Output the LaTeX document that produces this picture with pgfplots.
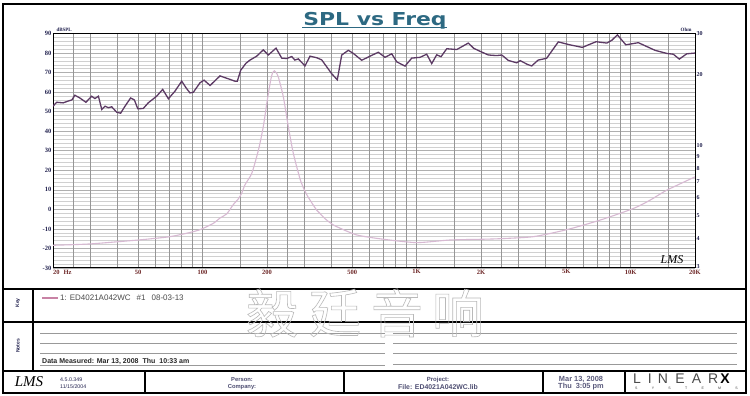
\documentclass[border=0pt]{standalone}
\usepackage{fontspec}
\setmainfont{Liberation Sans}
\newfontfamily\lserif{Liberation Serif}
\newfontfamily\dejab{DejaVu Sans}
\newfontfamily\cjk{Noto Sans CJK SC}
\usepackage{graphicx}
\usepackage{pgfplots}
\pgfplotsset{compat=1.18}
\definecolor{splc}{RGB}{92,58,100}
\definecolor{impc}{RGB}{215,185,210}
\definecolor{gridv}{RGB}{150,150,150}
\definecolor{gridh}{RGB}{208,208,208}
\definecolor{gridhm}{RGB}{175,175,175}
\definecolor{navy}{RGB}{35,35,80}
\definecolor{xlab}{RGB}{110,40,40}
\definecolor{titlec}{RGB}{45,105,130}
\definecolor{legc}{RGB}{200,130,165}
\definecolor{wm}{RGB}{185,185,185}
\newcommand\outl[1]{\special{pdf:literal direct 1 Tr 0.6 w}#1\special{pdf:literal direct 0 Tr}}
\begin{document}
\begin{tikzpicture}[x=1pt,y=1pt]
\useasboundingbox (0,0) rectangle (750,396);
\fill[white] (0,0) rectangle (750,396);
% horizontal grid + left labels
\begin{axis}[at={(53pt,128pt)},anchor=south west,width=642pt,height=234.5pt,
  scale only axis,xmode=log,xmin=20,xmax=20000,major tick length=0pt,minor tick length=0pt,
  ymin=-30,ymax=90,xtick=\empty,
  ytick={-30,-20,-10,0,10,20,30,40,50,60,70,80,90},
  yticklabels={-30,-20,-10,0,10,20,30,40,50,60,70,80,90},
  minor y tick num=4,ymajorgrids,yminorgrids,
  major grid style={draw=gridhm,line width=0.6pt},
  minor grid style={draw=gridh,line width=0.5pt},
  axis line style={draw=none},
  yticklabel style={font=\lserif\bfseries\fontsize{6.5}{7}\selectfont,text=navy,inner sep=1.5pt}]
\addplot[draw=none] coordinates {(20,0)(20000,0)};
\end{axis}
% vertical grid + x labels + SPL
\begin{axis}[at={(53pt,128pt)},anchor=south west,width=642pt,height=234.5pt,
  scale only axis,xmode=log,xmin=20,xmax=20000,major tick length=0pt,minor tick length=0pt,
  ymin=-30,ymax=90,ytick=\empty,
  xtick={20,50,100,200,500,1000,2000,5000,10000,20000},
  xticklabels={\makebox[0pt][l]{20\hspace{4pt}Hz},50,100,200,500,1K,2K,5K,10K,20K},
  minor xtick={25,30,40,60,70,80,90,150,250,300,400,600,700,800,900,1500,2500,3000,4000,6000,7000,8000,9000,15000},
  xmajorgrids,xminorgrids,
  major grid style={draw=gridv,line width=0.75pt},
  minor grid style={draw=gridv,line width=0.75pt},
  axis line style={black,line width=1pt},
  xticklabel style={font=\lserif\bfseries\fontsize{6.5}{7}\selectfont,text=xlab,inner sep=1.5pt}]
\addplot[splc,line width=1.3pt] coordinates {
(20,52.8)(20.8,54.8)(22.3,54.5)(23.5,55.4)(24.5,56)(25.3,58.4)(26.7,57)(28.5,54.8)(30.3,57.9)(31.4,56.7)(32.6,57.9)(33.8,51.1)(35,52.8)(36.3,52)(37.6,52.5)(39.7,49.7)(41.4,49.2)(43.4,52.8)(46.1,57)(48,56)(49.8,51.5)(52.8,51.6)(55.7,54.5)(61,57.9)(65.1,61.4)(69.2,56.6)(74.3,60.5)(79.9,65.6)(83.7,62.2)(87.3,59.6)(90.5,59.9)(97.3,64.8)(101.6,66.1)(108.4,63.4)(120.6,68.3)(129.6,67.1)(141.7,65.6)(145.3,65.6)(150.7,71.2)(159.6,74.8)(166.6,76.4)(179,78.4)(192.1,81.6)(202.8,79)(220.4,82.5)(234.3,77.4)(247.3,77.2)(260.9,78.2)(270,76.4)(280.1,77)(301,73.4)(317.6,78.4)(341.4,77.6)(360.3,76.5)(401.2,69.4)(426.1,66.3)(446.8,79)(479.8,81.4)(506.3,79.8)(554.1,76.3)(605.9,78.4)(662.5,80.4)(712,77.8)(765.3,79.6)(807.6,75.5)(883,73.3)(949,77.4)(1037.6,77.8)(1115.1,79.4)(1176.6,74.6)(1241.7,79.1)(1300,78.1)(1383.2,82.2)(1540.9,81.8)(1744.6,85.1)(1850,82.4)(1978.6,80.9)(2163.8,79)(2368.7,78.7)(2500,79)(2684.6,76.2)(2937.4,75)(3050,76.1)(3292.6,74.2)(3450,73.4)(3700,76.4)(4050,77.3)(4595,85.7)(5200,84.2)(5950,82.9)(6900,85.8)(7738.6,85.1)(8165.3,86.5)(8672.9,89.3)(9500,84.2)(10871,85.3)(13000,81.4)(14757,79.8)(15836,79.4)(16889,76.9)(18291,79.6)(20000,80)};
\end{axis}
% impedance, right log axis
\begin{axis}[at={(53pt,128pt)},anchor=south west,width=642pt,height=234.5pt,
  scale only axis,xmode=log,xmin=20,xmax=20000,major tick length=0pt,minor tick length=0pt,
  ymode=log,ymin=3,ymax=30,axis x line=none,axis y line*=right,
  ytick={3,4,5,6,7,8,9,10,20,30},yticklabels={\raisebox{3pt}{3},4,5,6,7,8,9,10,20,30},
  axis line style={black,line width=1pt},
  yticklabel style={font=\lserif\bfseries\fontsize{6}{7}\selectfont,text=navy,inner sep=1.5pt,anchor=west}]
\addplot[impc,line width=1.1pt,smooth,tension=0.4] coordinates {
(20,3.75)(29.8,3.8)(50.1,3.95)(61,4.02)(70.4,4.08)(84.3,4.22)(97.3,4.37)(112.2,4.65)(120.6,4.9)(129.6,5.1)(139.3,5.6)(146.6,5.9)(152.3,6.25)(157.9,6.8)(169.7,7.6)(182.1,9.5)(192.1,12.0)(200.6,15.6)(208.1,19.0)(212,20.3)(216.3,20.8)(220,20.5)(225.8,19.6)(238.4,16.1)(251.6,12.0)(265.4,9.25)(285.3,7.2)(298,6.5)(312,6.0)(341.4,5.29)(353.8,5.12)(380,4.8)(408.2,4.58)(423.5,4.5)(525.3,4.15)(699.2,3.98)(1001,3.85)(1433,3.95)(2050,3.98)(2454,4.0)(3511,4.08)(5030,4.37)(7199,4.8)(10299,5.38)(12329,5.84)(14757,6.44)(20000,7.34)};
\end{axis}
% labels around plot
\node[anchor=west,font=\lserif\bfseries\fontsize{5}{6}\selectfont,text=navy] at (53,366) {dBSPL};
\node[anchor=east,font=\lserif\bfseries\fontsize{5}{6}\selectfont,text=navy] at (695,366) {Ohm};
\node[font=\lserif\itshape\fontsize{12}{13}\selectfont] at (672,136) {LMS};
% title
\node[anchor=base,text=titlec,inner sep=0pt] at (375,370.5) {\scalebox{1.23}[1]{\dejab\bfseries\fontsize{17.8}{20}\selectfont SPL vs Freq}};
\draw[titlec,line width=1.2pt] (302,368.6) -- (447,368.6);
% frame
\draw[line width=2.2pt] (3,3) rectangle (746,392);
\draw[line width=1.8pt] (3,107) -- (746,107) (3,74) -- (746,74) (3,25) -- (746,25);
\draw[line width=1.5pt] (33,25) -- (33,107);
\draw[line width=1.5pt] (145,3) -- (145,25) (344,3) -- (344,25) (543,3) -- (543,25) (625,3) -- (625,25);
% key / notes
\node[rotate=90,font=\bfseries\fontsize{5}{6}\selectfont,text=navy] at (18,93) {Key};
\node[rotate=90,font=\bfseries\fontsize{5}{6}\selectfont,text=navy] at (18,50) {Notes};
\draw[legc,line width=1.2pt] (42,98) -- (58,98);
\node[anchor=west,font=\fontsize{8}{9}\selectfont,text=black!70,inner sep=0pt] at (60,98) {1: ED4021A042WC\hspace{6pt}\#1\hspace{6pt}08-03-13};
\draw[black!40,line width=0.6pt] (40,62.5) -- (385,62.5) (40,52.5) -- (385,52.5) (40,42.5) -- (385,42.5) (40,31) -- (385,31);
\draw[black!40,line width=0.6pt] (393,62.5) -- (737,62.5) (393,52.5) -- (737,52.5) (393,42.5) -- (737,42.5) (393,32) -- (737,32);
\node[anchor=base west,font=\bfseries\fontsize{7}{8}\selectfont,text=black!85,inner sep=0pt] at (42,32.3) {Data Measured: Mar 13, 2008\hspace{4pt}Thu\hspace{4pt}10:33 am};
% watermark
\node[text=wm,font=\cjk\fontsize{52}{52}\selectfont,inner sep=0pt] at (272,83) {\outl{毅}};
\node[text=wm,font=\cjk\fontsize{52}{52}\selectfont,inner sep=0pt] at (335,83) {\outl{廷}};
\node[text=wm,font=\cjk\fontsize{52}{52}\selectfont,inner sep=0pt] at (397,83) {\outl{音}};
\node[text=wm,font=\cjk\fontsize{52}{52}\selectfont,inner sep=0pt] at (458,83) {\outl{响}};
% footer
\node[font=\lserif\itshape\fontsize{15}{15}\selectfont] at (29,14) {LMS};
\node[anchor=west,font=\fontsize{5.3}{6}\selectfont,text=navy,inner sep=0pt] at (60,16.5) {4.5.0.349};
\node[anchor=west,font=\fontsize{5.3}{6}\selectfont,text=navy,inner sep=0pt] at (60,9.3) {11/15/2004};
\node[font=\bfseries\fontsize{5.8}{6}\selectfont,text=navy!80,inner sep=0pt] at (242,16.5) {Person:};
\node[font=\bfseries\fontsize{5.8}{6}\selectfont,text=navy!80,inner sep=0pt] at (242,9.3) {Company:};
\node[font=\bfseries\fontsize{6}{6}\selectfont,text=navy!80,inner sep=0pt] at (438,16.5) {Project:};
\node[font=\bfseries\fontsize{6.9}{7}\selectfont,text=navy!80,inner sep=0pt] at (438,9.3) {File: ED4021A042WC.lib};
\node[font=\bfseries\fontsize{7.4}{8}\selectfont,text=navy!75,inner sep=0pt] at (581,16.5) {Mar 13, 2008};
\node[font=\bfseries\fontsize{7.4}{8}\selectfont,text=navy!75,inner sep=0pt] at (581,9.3) {Thu\hspace{4pt}3:05 pm};
\node[anchor=base west,font=\fontsize{14}{14}\selectfont,text=black!70,inner sep=0pt] at (633,12) {L\hspace{7pt}I\hspace{6pt}N\hspace{7.5pt}E\hspace{7pt}A\hspace{7pt}R\hspace{2pt}{\bfseries\color{black}X}};
\node[anchor=west,font=\fontsize{3.5}{4}\selectfont,text=black!75,inner sep=0pt] at (635,8) {S\hspace{14.3pt}Y\hspace{14.3pt}S\hspace{14.3pt}T\hspace{14.3pt}E\hspace{14.3pt}M\hspace{14.3pt}S};
\end{tikzpicture}
\end{document}
